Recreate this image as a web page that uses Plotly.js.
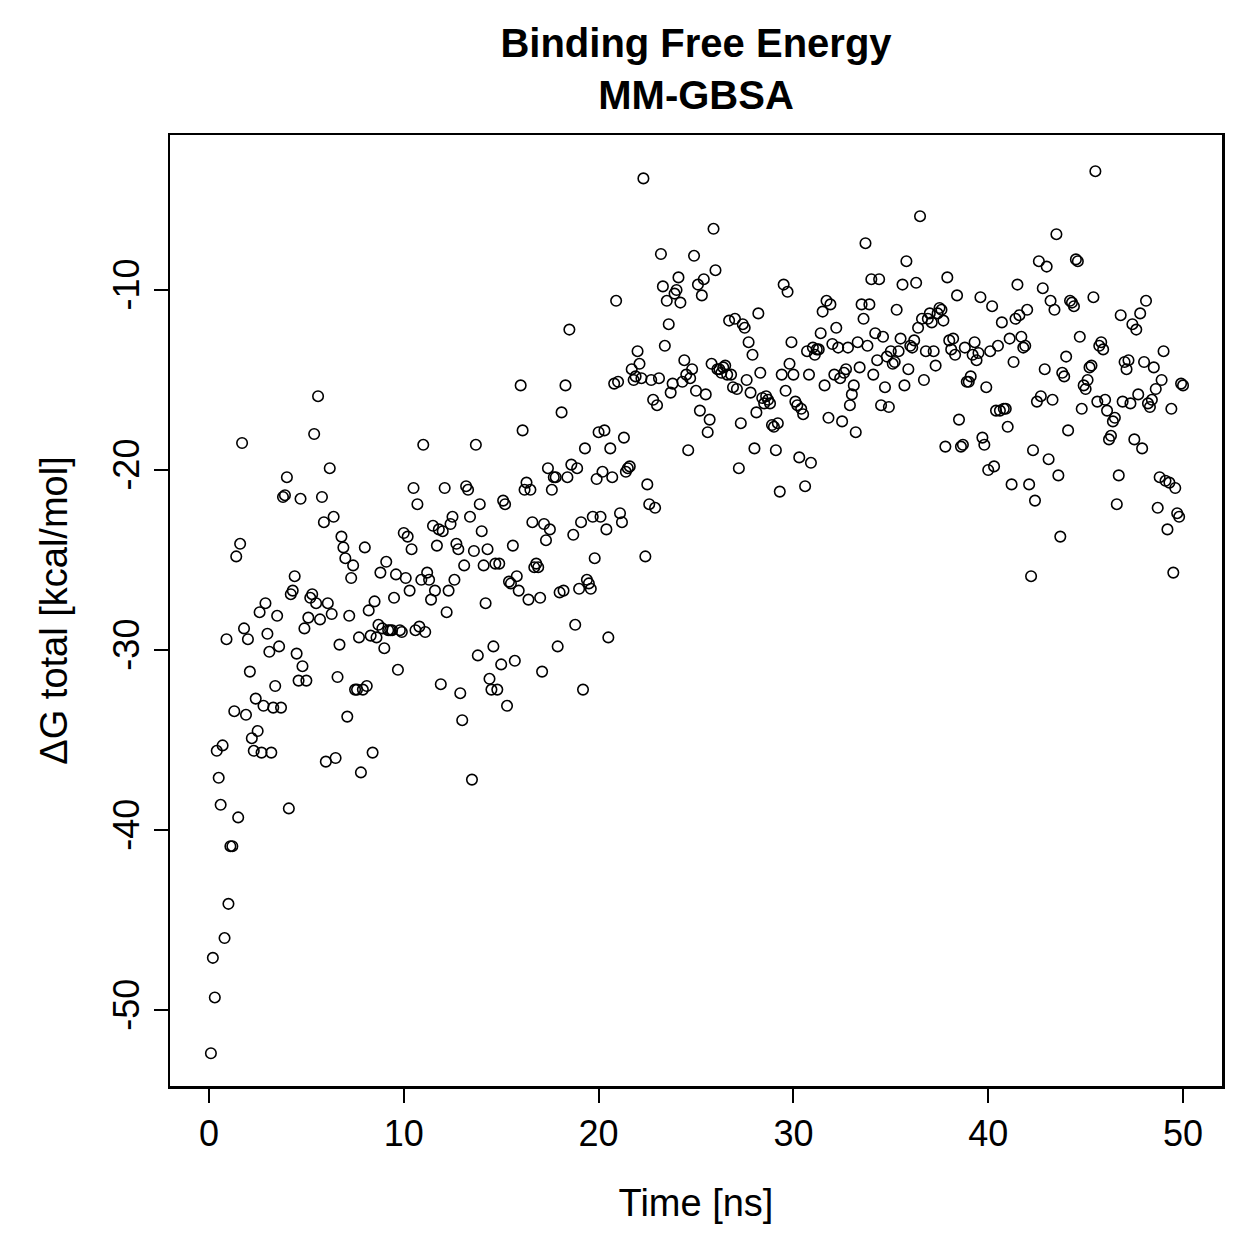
<!DOCTYPE html>
<html>
<head>
<meta charset="utf-8">
<script src="https://cdn.plot.ly/plotly-3.0.1.min.js"></script>
<style>
  html, body { margin: 0; padding: 0; background: #ffffff; }
  #chart { width: 1259px; height: 1259px; }
</style>
</head>
<body>
<div id="chart"></div>
<script>
// Simulation time of each frame (ns)
const timeNs = [
  0.1,0.2,0.3,0.4,0.5,0.6,0.7,0.8,0.9,1.0,1.1,1.2,1.3,1.4,1.5,1.6,1.7,1.8,1.9,2.0,
  2.1,2.2,2.3,2.4,2.5,2.6,2.7,2.8,2.9,3.0,3.1,3.2,3.3,3.4,3.5,3.6,3.7,3.8,3.9,4.0,
  4.1,4.2,4.3,4.4,4.5,4.6,4.7,4.8,4.9,5.0,5.1,5.2,5.3,5.4,5.5,5.6,5.7,5.8,5.9,6.0,
  6.1,6.2,6.3,6.4,6.5,6.6,6.7,6.8,6.9,7.0,7.1,7.2,7.3,7.4,7.5,7.6,7.7,7.8,7.9,8.0,
  8.1,8.2,8.3,8.4,8.5,8.6,8.7,8.8,8.9,9.0,9.1,9.2,9.3,9.4,9.5,9.6,9.7,9.8,9.9,10.0,
  10.1,10.2,10.3,10.4,10.5,10.6,10.7,10.8,10.9,11.0,11.1,11.2,11.3,11.4,11.5,11.6,11.7,11.8,11.9,12.0,
  12.1,12.2,12.3,12.4,12.5,12.6,12.7,12.8,12.9,13.0,13.1,13.2,13.3,13.4,13.5,13.6,13.7,13.8,13.9,14.0,
  14.1,14.2,14.3,14.4,14.5,14.6,14.7,14.8,14.9,15.0,15.1,15.2,15.3,15.4,15.5,15.6,15.7,15.8,15.9,16.0,
  16.1,16.2,16.3,16.4,16.5,16.6,16.7,16.8,16.9,17.0,17.1,17.2,17.3,17.4,17.5,17.6,17.7,17.8,17.9,18.0,
  18.1,18.2,18.3,18.4,18.5,18.6,18.7,18.8,18.9,19.0,19.1,19.2,19.3,19.4,19.5,19.6,19.7,19.8,19.9,20.0,
  20.1,20.2,20.3,20.4,20.5,20.6,20.7,20.8,20.9,21.0,21.1,21.2,21.3,21.4,21.5,21.6,21.7,21.8,21.9,22.0,
  22.1,22.2,22.3,22.4,22.5,22.6,22.7,22.8,22.9,23.0,23.1,23.2,23.3,23.4,23.5,23.6,23.7,23.8,23.9,24.0,
  24.1,24.2,24.3,24.4,24.5,24.6,24.7,24.8,24.9,25.0,25.1,25.2,25.3,25.4,25.5,25.6,25.7,25.8,25.9,26.0,
  26.1,26.2,26.3,26.4,26.5,26.6,26.7,26.8,26.9,27.0,27.1,27.2,27.3,27.4,27.5,27.6,27.7,27.8,27.9,28.0,
  28.1,28.2,28.3,28.4,28.5,28.6,28.7,28.8,28.9,29.0,29.1,29.2,29.3,29.4,29.5,29.6,29.7,29.8,29.9,30.0,
  30.1,30.2,30.3,30.4,30.5,30.6,30.7,30.8,30.9,31.0,31.1,31.2,31.3,31.4,31.5,31.6,31.7,31.8,31.9,32.0,
  32.1,32.2,32.3,32.4,32.5,32.6,32.7,32.8,32.9,33.0,33.1,33.2,33.3,33.4,33.5,33.6,33.7,33.8,33.9,34.0,
  34.1,34.2,34.3,34.4,34.5,34.6,34.7,34.8,34.9,35.0,35.1,35.2,35.3,35.4,35.5,35.6,35.7,35.8,35.9,36.0,
  36.1,36.2,36.3,36.4,36.5,36.6,36.7,36.8,36.9,37.0,37.1,37.2,37.3,37.4,37.5,37.6,37.7,37.8,37.9,38.0,
  38.1,38.2,38.3,38.4,38.5,38.6,38.7,38.8,38.9,39.0,39.1,39.2,39.3,39.4,39.5,39.6,39.7,39.8,39.9,40.0,
  40.1,40.2,40.3,40.4,40.5,40.6,40.7,40.8,40.9,41.0,41.1,41.2,41.3,41.4,41.5,41.6,41.7,41.8,41.9,42.0,
  42.1,42.2,42.3,42.4,42.5,42.6,42.7,42.8,42.9,43.0,43.1,43.2,43.3,43.4,43.5,43.6,43.7,43.8,43.9,44.0,
  44.1,44.2,44.3,44.4,44.5,44.6,44.7,44.8,44.9,45.0,45.1,45.2,45.3,45.4,45.5,45.6,45.7,45.8,45.9,46.0,
  46.1,46.2,46.3,46.4,46.5,46.6,46.7,46.8,46.9,47.0,47.1,47.2,47.3,47.4,47.5,47.6,47.7,47.8,47.9,48.0,
  48.1,48.2,48.3,48.4,48.5,48.6,48.7,48.8,48.9,49.0,49.1,49.2,49.3,49.4,49.5,49.6,49.7,49.8,49.9,50.0
];

// Total binding free energy per frame (kcal/mol)
const deltaGTotal = [
  -52.4,-47.1,-49.3,-35.6,-37.1,-38.6,-35.3,-46.0,-29.4,-44.1,
  -40.9,-40.9,-33.4,-24.8,-39.3,-24.1,-18.5,-28.8,-33.6,-29.4,
  -31.2,-34.9,-35.6,-32.7,-34.5,-27.9,-35.7,-33.1,-27.4,-29.1,
  -30.1,-35.7,-33.2,-32.0,-28.1,-29.8,-33.2,-21.5,-21.4,-20.4,
  -38.8,-26.9,
  -26.7,-25.9,-30.2,-31.7,-21.6,-30.9,-28.8,-31.7,-28.2,-27.1,
  -26.9,-18.0,-27.4,-15.9,-28.3,-21.5,-22.9,-36.2,-27.4,-19.9,
  -28.0,-22.6,-36.0,-31.5,-29.7,-23.7,-24.3,-24.9,-33.7,-28.1,
  -26.0,-25.3,-32.2,-32.2,-29.3,-36.8,-32.2,-24.3,-32.0,-27.8,
  -29.2,
  -35.7,-27.3,-29.3,-28.6,-25.7,-28.8,-29.9,-25.1,-28.9,-28.9,
  -28.9,-27.1,-25.8,-31.1,-28.9,-29.0,-23.5,-26.0,-23.7,-26.7,
  -24.4,-21.0,-28.9,-21.9,-28.7,-26.1,-18.6,-29.0,-25.7,-26.1,
  -27.2,-23.1,-26.7,-24.2,-23.3,-31.9,-23.4,-21.0,-27.9,-26.7,
  -23.0,-22.6,
  -26.1,-24.1,-24.4,-32.4,-33.9,-25.3,-20.9,-21.1,-22.6,-37.2,
  -24.5,-18.6,-30.3,-21.9,-23.4,-25.3,-27.4,-24.4,-31.6,-32.2,
  -29.8,-25.2,-32.2,-25.2,-30.8,-21.7,-21.9,-33.1,-26.2,-26.3,
  -24.2,-30.6,-25.9,-26.7,-15.3,-17.8,-21.1,-20.7,-27.2,-21.1,
  -22.9,-25.4,
  -25.2,-25.4,-27.1,-31.2,-23.0,-23.9,-19.9,-23.3,-21.1,-20.4,
  -20.4,-29.8,-26.8,-16.8,-26.7,-15.3,-20.4,-12.2,-19.7,-23.6,
  -28.6,-19.9,-26.6,-22.9,-32.2,-18.8,-26.1,-26.3,-26.6,-22.6,
  -24.9,-20.5,-17.9,-22.6,-20.1,-17.8,-23.3,-29.3,-18.8,-20.4,
  -15.2,
  -10.6,-15.1,-22.4,-22.9,-18.2,-20.1,-19.9,-19.8,-14.4,-15.0,
  -14.8,-13.4,-14.1,-14.9,-3.8,-24.8,-20.8,-21.9,-15.0,-16.1,
  -22.1,-16.4,-14.9,-8.0,-9.8,-13.1,-10.6,-11.9,-15.7,-15.2,
  -10.2,-10.0,-9.3,-10.7,-15.1,-13.9,-14.7,-18.9,-14.9,-14.4,
  -8.1,-15.6,
  -9.7,-16.7,-10.3,-9.4,-15.8,-17.9,-17.2,-14.1,-6.6,-8.9,
  -14.4,-14.4,-14.6,-14.3,-14.2,-14.7,-11.7,-14.7,-15.4,-11.6,
  -15.5,-19.9,-17.4,-11.9,-12.1,-15.0,-12.9,-15.7,-13.6,-18.8,
  -16.8,-11.3,-14.6,-16.0,-16.3,-15.9,-16.1,-16.3,-17.5,-17.6,
  -18.9,-17.4,
  -21.2,-14.7,-9.7,-15.6,-10.1,-14.1,-12.9,-14.7,-16.2,-16.4,
  -19.3,-16.6,-16.9,-20.9,-13.4,-14.7,-19.6,-13.2,-13.6,-13.3,
  -13.3,-12.4,-11.2,-15.3,-10.6,-17.1,-10.8,-13.0,-14.7,-12.1,
  -13.2,-14.9,-17.3,-14.6,-14.4,-13.2,-16.4,-15.8,-15.3,-17.9,
  -12.9,
  -14.3,-10.8,-11.6,-7.4,-13.1,-10.8,-9.4,-14.7,-12.4,-13.9,
  -9.4,-16.4,-12.6,-15.4,-13.7,-16.5,-13.4,-14.1,-14.0,-11.1,
  -13.4,-12.7,-9.7,-15.3,-8.4,-14.4,-13.1,-13.2,-12.8,-9.6,
  -12.1,-5.9,-11.6,-15.0,-13.4,-11.6,-11.3,-11.8,-13.4,-14.2,
  -11.3,-11.0,
  -11.1,-11.7,-18.7,-9.3,-12.8,-13.3,-12.7,-13.6,-10.3,-17.2,
  -18.7,-18.6,-13.2,-15.1,-15.1,-14.8,-13.6,-12.9,-13.9,-13.5,
  -10.4,-18.2,-18.6,-15.4,-20.0,-13.4,-10.9,-19.8,-16.7,-13.1,
  -16.7,-11.8,-16.6,-16.6,-17.6,-12.7,-20.8,-14.0,-11.6,-9.7,
  -11.4,
  -12.6,-13.2,-13.1,-11.1,-20.8,-25.9,-18.9,-21.7,-16.2,-8.4,
  -15.9,-9.9,-14.4,-8.7,-19.4,-10.6,-16.1,-11.1,-6.9,-20.3,
  -23.7,-14.6,-14.8,-13.7,-17.8,-10.6,-10.7,-10.9,-8.3,-8.4,
  -12.6,-16.6,-15.3,-15.5,-15.0,-14.3,-14.2,-10.4,-3.4,-16.2,
  -13.1,-12.9,
  -13.3,-16.1,-16.7,-18.3,-18.1,-17.3,-17.1,-21.9,-20.3,-11.4,
  -16.2,-14.0,-14.4,-13.9,-16.3,-11.9,-18.3,-12.2,-15.8,-11.3,
  -18.8,-14.0,-10.6,-16.3,-16.5,-16.1,-14.3,-15.5,-22.1,-20.4,
  -15.0,-13.4,-20.6,-23.3,-20.7,-16.6,-25.7,-21.0,-22.4,-22.6,
  -15.2,-15.3
];

// Axis ticks
const xTickVals = [0, 10, 20, 30, 40, 50];
const xTickText = ['0', '10', '20', '30', '40', '50'];
const yTickVals = [-50, -40, -30, -20, -10];
const yTickText = ['-50', '-40', '-30', '-20', '-10'];

const FONT = 'Liberation Sans, Arial, Helvetica, sans-serif';

const trace = {
  type: 'scatter',
  mode: 'markers',
  x: timeNs,
  y: deltaGTotal,
  marker: {
    symbol: 'circle-open',
    size: 10.5,
    color: '#000000',
    line: { color: '#000000', width: 1.6 }
  },
  hoverinfo: 'x+y'
};

const layout = {
  width: 1259,
  height: 1259,
  margin: { l: 170, r: 37, t: 135, b: 173 },
  paper_bgcolor: '#ffffff',
  plot_bgcolor: '#ffffff',
  showlegend: false,
  font: { family: FONT, color: '#000000', size: 38 },
  title: {
    text: 'Binding Free Energy<br>MM-GBSA',
    font: { family: FONT, size: 40, weight: 'bold', color: '#000000' },
    x: 0.5,
    xanchor: 'center',
    xref: 'paper',
    y: 0.955,
    yref: 'container',
    yanchor: 'middle'
  },
  xaxis: {
    range: [-2, 52],
    tickmode: 'array',
    tickvals: xTickVals,
    ticktext: xTickText,
    ticks: 'outside',
    ticklen: 14,
    tickwidth: 2,
    tickcolor: '#000000',
    showline: true,
    mirror: true,
    linecolor: '#000000',
    linewidth: 2.5,
    showgrid: false,
    zeroline: false,
    tickfont: { family: FONT, size: 36, color: '#000000' },
    title: {
      text: 'Time [ns]',
      font: { family: FONT, size: 38, color: '#000000' },
      standoff: 37
    }
  },
  yaxis: {
    range: [-54.22, -1.39],
    tickmode: 'array',
    tickvals: yTickVals,
    ticktext: yTickText,
    tickangle: -90,
    ticks: 'outside',
    ticklen: 14,
    tickwidth: 2,
    tickcolor: '#000000',
    showline: true,
    mirror: true,
    linecolor: '#000000',
    linewidth: 2.5,
    showgrid: false,
    zeroline: false,
    tickfont: { family: FONT, size: 36, color: '#000000' },
    title: {
      text: 'ΔG total [kcal/mol]',
      font: { family: FONT, size: 38, color: '#000000' },
      standoff: 27
    }
  }
};

Plotly.newPlot('chart', [trace], layout, { displayModeBar: false, staticPlot: true });
</script>
</body>
</html>
